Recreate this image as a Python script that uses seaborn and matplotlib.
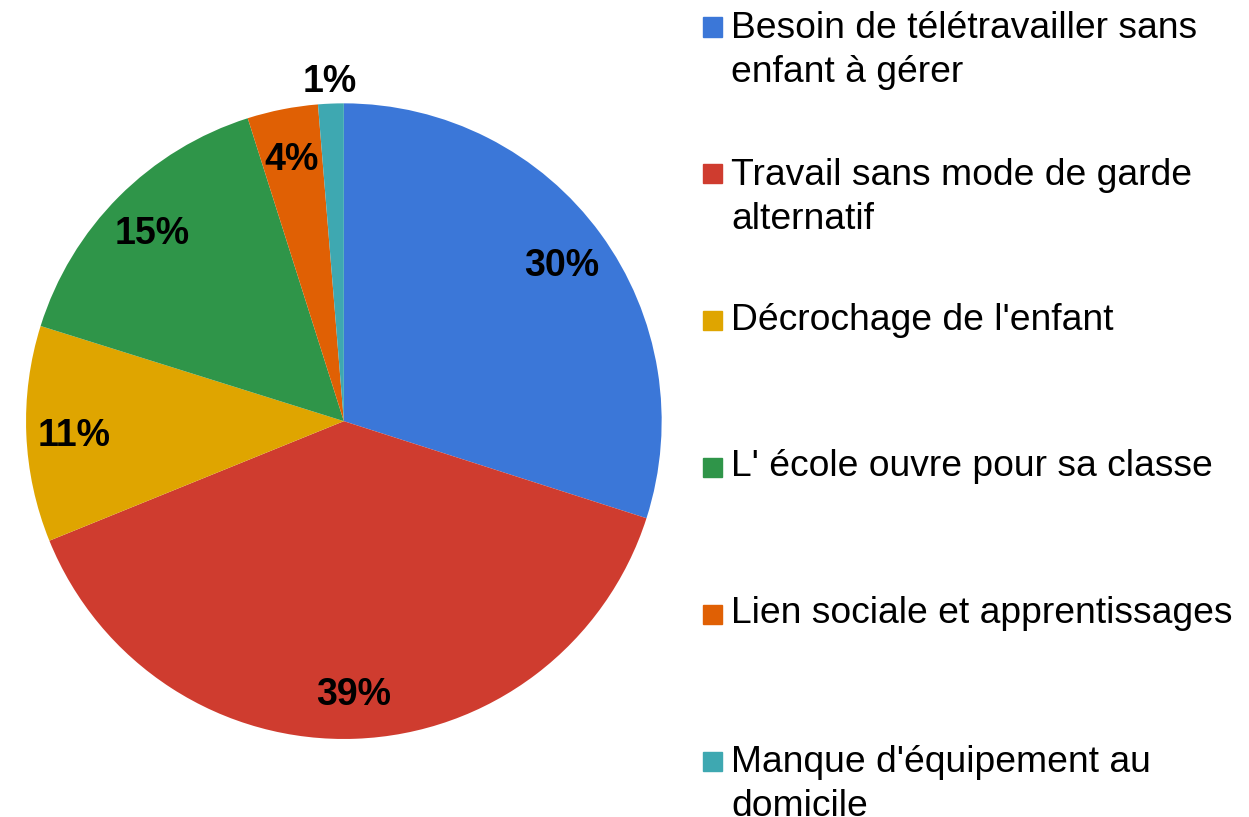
import numpy as np
import seaborn as sns
import matplotlib.pyplot as plt
from matplotlib.patches import Rectangle

# data (share of answers, %)
categories = [
    "Besoin de télétravailler sans\nenfant à gérer",
    "Travail sans mode de garde\nalternatif",
    "Décrochage de l'enfant",
    "L' école ouvre pour sa classe",
    "Lien sociale et apprentissages",
    "Manque d'équipement au\ndomicile",
]
shares = [30.0, 39.0, 11.0, 15.3, 3.6, 1.3]
colors = ["#3b77d8", "#cf3c2f", "#dfa500", "#2f9549", "#e06004", "#3ea8b1"]

sns.set_style("white")
plt.rcParams['font.family'] = ['Liberation Sans', 'DejaVu Sans']

fig = plt.figure(figsize=(12.49, 8.17), dpi=100)
ax = fig.add_axes([0.0208, 0.0955, 0.509, 0.778])

wedges, texts, autotexts = ax.pie(
    shares, colors=colors, startangle=90, counterclock=False,
    autopct=lambda p: "%.0f%%" % p, pctdistance=0.85,
    textprops=dict(fontsize=27, fontweight="bold", color="black"),
    wedgeprops=dict(linewidth=0))
ax.set_aspect("equal")
ax.set_xlim(-1, 1)
ax.set_ylim(-1, 1)
for t in autotexts:
    t.set_va("center_baseline")

# the smallest slice gets its label just outside the pie
x, y = autotexts[-1].get_position()
scale = 1.08 / np.hypot(x, y)
autotexts[-1].set_position((x * scale, y * scale))

# legend drawn by hand so the square sits on the first line
W, H = 1249, 817
step = 146.8
line_gap = 46
for i, (lab, col) in enumerate(zip(categories, colors)):
    base = 36 + i * step
    n_extra = lab.count("\n")
    fig.patches.append(Rectangle((703 / W, 1 - (base + 0.5) / H), 19 / W, 19 / H,
                                 transform=fig.transFigure, color=col))
    fig.text(731 / W, 1 - (base + n_extra * line_gap) / H, lab, fontsize=26.8,
             va="baseline", ha="left", linespacing=1.33, color="black")

fig.savefig("out.png", dpi=100)
